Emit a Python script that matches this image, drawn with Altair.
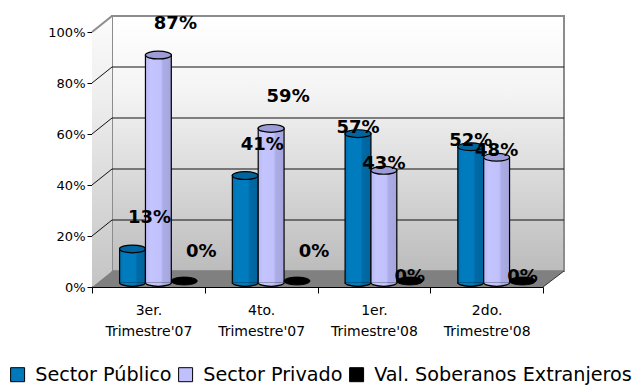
import altair as alt
import pandas as pd

# ---- data -------------------------------------------------------------
trimestres = ["3er. Trimestre'07", "4to. Trimestre'07", "1er. Trimestre'08", "2do. Trimestre'08"]
series = ["Sector Público", "Sector Privado", "Val. Soberanos Extranjeros"]
sector_publico = [0.13, 0.41, 0.57, 0.52]
sector_privado = [0.87, 0.59, 0.43, 0.48]
soberanos_ext = [0.0, 0.0, 0.0, 0.0]
y_ticks = [0, 0.2, 0.4, 0.6, 0.8, 1.0]

rows = []
for serie, vals in zip(series, [sector_publico, sector_privado, soberanos_ext]):
    for t, v in zip(trimestres, vals):
        rows.append({"trimestre": t, "serie": serie, "valor": v})
df = pd.DataFrame(rows)
one_row = pd.DataFrame({"k": [0]})
grid_df = pd.DataFrame({"v": y_ticks[1:-1]})
top_df = pd.DataFrame({"v": y_ticks[-1:]})

# ---- geometry of the pseudo-3D box (pixels) ---------------------------
W, H = 451, 255          # front plane
DX, DY = 20, 16          # depth of the box
BAR_SHIFT = 10           # bars stand half-way into the box

FONT = "DejaVu Sans"
legend_colors = ["#0079BC", "#C0C0FF", "#000000"]
cap_colors = ["#00659E", "#9C9CD6", "#000000"]


def vgrad(stops):
    return alt.Gradient(gradient="linear", x1=0, y1=0, x2=0, y2=1,
                        stops=[alt.GradientStop(color=c, offset=o) for o, c in stops])


def hgrad(stops):
    return alt.Gradient(gradient="linear", x1=0, y1=0, x2=1, y2=0,
                        stops=[alt.GradientStop(color=c, offset=o) for o, c in stops])


wall_grad = vgrad([(0, "#ffffff"), (0.3, "#f4f4f4"), (1, "#bcbcbc")])
side_grad = vgrad([(0, "#fbfbfb"), (0.3, "#eeeeee"), (1, "#c4c4c4")])
bar_grads = [
    hgrad([(0, "#0070AE"), (0.15, "#007BBE"), (0.6, "#007BBE"), (0.68, "#006AA5"), (1, "#00649C")]),
    hgrad([(0, "#B8B8F2"), (0.2, "#C4C4FF"), (0.6, "#C0C0FC"), (0.68, "#ABABE6"), (1, "#A6A6DE")]),
]

# ellipse / half-ellipse symbols for the cylinder caps (unit box -1..1)
K = 0.3
C = 0.5523
ELLIPSE = (f"M-1,0 C-1,{-K*C:.3f} {-C},{-K} 0,{-K} C{C},{-K} 1,{-K*C:.3f} 1,0 "
           f"C1,{K*C:.3f} {C},{K} 0,{K} C{-C},{K} -1,{K*C:.3f} -1,0 Z")
HALF_ELLIPSE = f"M-1,0 C-1,{K*C:.3f} {-C},{K} 0,{K} C{C},{K} 1,{K*C:.3f} 1,0"
CAP_SIZE = 26 * 26

# ---- box, axes and legend --------------------------------------------
y_axis = alt.Axis(values=y_ticks, format=".0%", title=None, grid=False,
                  labelFont=FONT, labelFontSize=13, labelColor="black",
                  domainColor="black", tickColor="black", tickSize=5, labelPadding=2)
y_scale = alt.Scale(domain=[0, 1], nice=False)

legend_layer = alt.Chart(df).mark_square(size=4, opacity=1).encode(
    x=alt.value(200), y=alt.value(120),
    color=alt.Color("serie:N", scale=alt.Scale(domain=series, range=legend_colors),
                    legend=alt.Legend(orient="none", legendX=-84, legendY=333,
                                      direction="horizontal", title=None,
                                      symbolType="square", symbolSize=196,
                                      symbolStrokeColor="black", symbolStrokeWidth=1,
                                      symbolOpacity=1, labelFont=FONT, labelFontSize=19.2,
                                      labelColor="black", labelOffset=8, labelLimit=400,
                                      columnPadding=4, padding=0)),
)

axis_layer = alt.Chart(df).mark_point(opacity=0).encode(
    x=alt.X("trimestre:N",
            scale=alt.Scale(domain=trimestres, paddingInner=0, paddingOuter=0),
            axis=alt.Axis(title=None, labelAngle=0, labelExpr="split(datum.label, ' ')",
                          labelFont=FONT, labelFontSize=14, labelColor="black",
                          labelLineHeight=21, labelPadding=10, tickBand="extent",
                          domainColor="black", tickColor="black", tickSize=6)),
    y=alt.Y("valor:Q", scale=y_scale, axis=y_axis),
)

back_wall = alt.Chart(one_row).mark_rect(fill=wall_grad, stroke="#8c8c8c", strokeWidth=2).encode(
    x=alt.value(DX), x2=alt.value(W + DX + 1), y=alt.value(-DY), y2=alt.value(H - DY)
)

side_wall = alt.Chart(one_row).mark_point(
    shape=f"M0,0 L{DX},{-DY} L{DX},{H - DY} L0,{H} Z", size=4, filled=True,
    fill=side_grad, strokeWidth=0, opacity=1,
).encode(x=alt.value(0), y=alt.value(0))

floor = alt.Chart(one_row).mark_point(
    shape=f"M0,{H} L{DX},{H - DY} L{W + DX + 1},{H - DY} L{W},{H} Z", size=4, filled=True,
    fill="#808080", strokeWidth=0, opacity=1,
).encode(x=alt.value(0), y=alt.value(0))

floor_edge = alt.Chart(one_row).mark_rule(color="#333333", strokeWidth=1).encode(
    x=alt.value(W), x2=alt.value(W + DX + 1), y=alt.value(H), y2=alt.value(H - DY)
)

back_grid = alt.Chart(grid_df).mark_rule(color="#111111", strokeWidth=1, yOffset=-DY).encode(
    y=alt.Y("v:Q", scale=y_scale, axis=y_axis), x=alt.value(DX), x2=alt.value(W + DX + 1)
)

side_grid = alt.Chart(grid_df).mark_rule(color="#111111", strokeWidth=1, y2Offset=-DY).encode(
    y=alt.Y("v:Q", scale=y_scale, axis=y_axis), y2=alt.Y2("v:Q"),
    x=alt.value(0), x2=alt.value(DX)
)

side_top = alt.Chart(top_df).mark_rule(color="#8c8c8c", strokeWidth=2, y2Offset=-DY).encode(
    y=alt.Y("v:Q", scale=y_scale, axis=y_axis), y2=alt.Y2("v:Q"),
    x=alt.value(0), x2=alt.value(DX)
)

base = alt.layer(legend_layer, back_wall, side_wall, floor, floor_edge,
                 back_grid, side_grid, side_top, axis_layer)

# ---- cylinders ---------------------------------------------------------
x_in = alt.X("trimestre:N",
             scale=alt.Scale(domain=trimestres, range=[BAR_SHIFT, W + BAR_SHIFT],
                             paddingInner=0, paddingOuter=0),
             axis=None)
xo_in = alt.XOffset("serie:N", scale=alt.Scale(domain=series, paddingInner=0, paddingOuter=0.68))
y_scale_in = alt.Scale(domain=[0, 1], range=[H - 4, -11], nice=False)
y_in = alt.Y("valor:Q", scale=y_scale_in, axis=None)

inner_layers = []
for i, serie in enumerate(series[:2]):
    src = alt.Chart(df).transform_filter(alt.datum.serie == serie)
    inner_layers.append(
        src.mark_bar(fill=bar_grads[i], stroke="black", strokeWidth=1.2)
        .encode(x=x_in, xOffset=xo_in, y=y_in)
    )
    inner_layers.append(
        src.transform_calculate(cero="0")
        .mark_point(shape=HALF_ELLIPSE, size=CAP_SIZE, filled=True, fill=bar_grads[i],
                    stroke="black", strokeWidth=1.2, opacity=1, yOffset=-0.6)
        .encode(x=x_in, xOffset=xo_in, y=alt.Y("cero:Q", scale=y_scale_in, axis=None))
    )
    inner_layers.append(
        src.mark_point(shape=ELLIPSE, size=CAP_SIZE, filled=True, fill=cap_colors[i],
                       stroke="black", strokeWidth=1.2, opacity=1)
        .encode(x=x_in, xOffset=xo_in, y=y_in)
    )

# flat (zero-height) cylinders of the third series
inner_layers.append(
    alt.Chart(df).transform_filter(alt.datum.serie == series[2])
    .mark_point(shape=ELLIPSE, size=CAP_SIZE, filled=True, fill=cap_colors[2],
                stroke="black", strokeWidth=1, opacity=1, yOffset=-2)
    .encode(x=x_in, xOffset=xo_in, y=y_in)
)

# value labels: 2007 quarters sit higher above their columns
label_kw = dict(font=FONT, fontSize=18, fontWeight="bold", color="black",
                align="center", baseline="middle")
txt = alt.Text("valor:Q", format=".0%")
inner_layers.append(
    alt.Chart(df).transform_filter("indexof(datum.trimestre, \"'07\") >= 0")
    .mark_text(dx=17, dy=-31, **label_kw)
    .encode(x=x_in, xOffset=xo_in, y=y_in, text=txt)
)
inner_layers.append(
    alt.Chart(df).transform_filter("indexof(datum.trimestre, \"'08\") >= 0")
    .mark_text(dx=0, dy=-6, **label_kw)
    .encode(x=x_in, xOffset=xo_in, y=y_in, text=txt)
)

inner = alt.layer(*inner_layers)

chart = (
    alt.layer(base, inner)
    .resolve_scale(x="independent", y="independent")
    .properties(
        width=W, height=H,
        padding={"left": 92, "top": 32, "right": 638 - 92 - W, "bottom": 387 - 32 - H},
        autosize=alt.AutoSizeParams(type="none"),
        background="white",
    )
    .configure_view(strokeWidth=0)
)

chart.save("out.html", embed_options={"renderer": "svg", "actions": False})
